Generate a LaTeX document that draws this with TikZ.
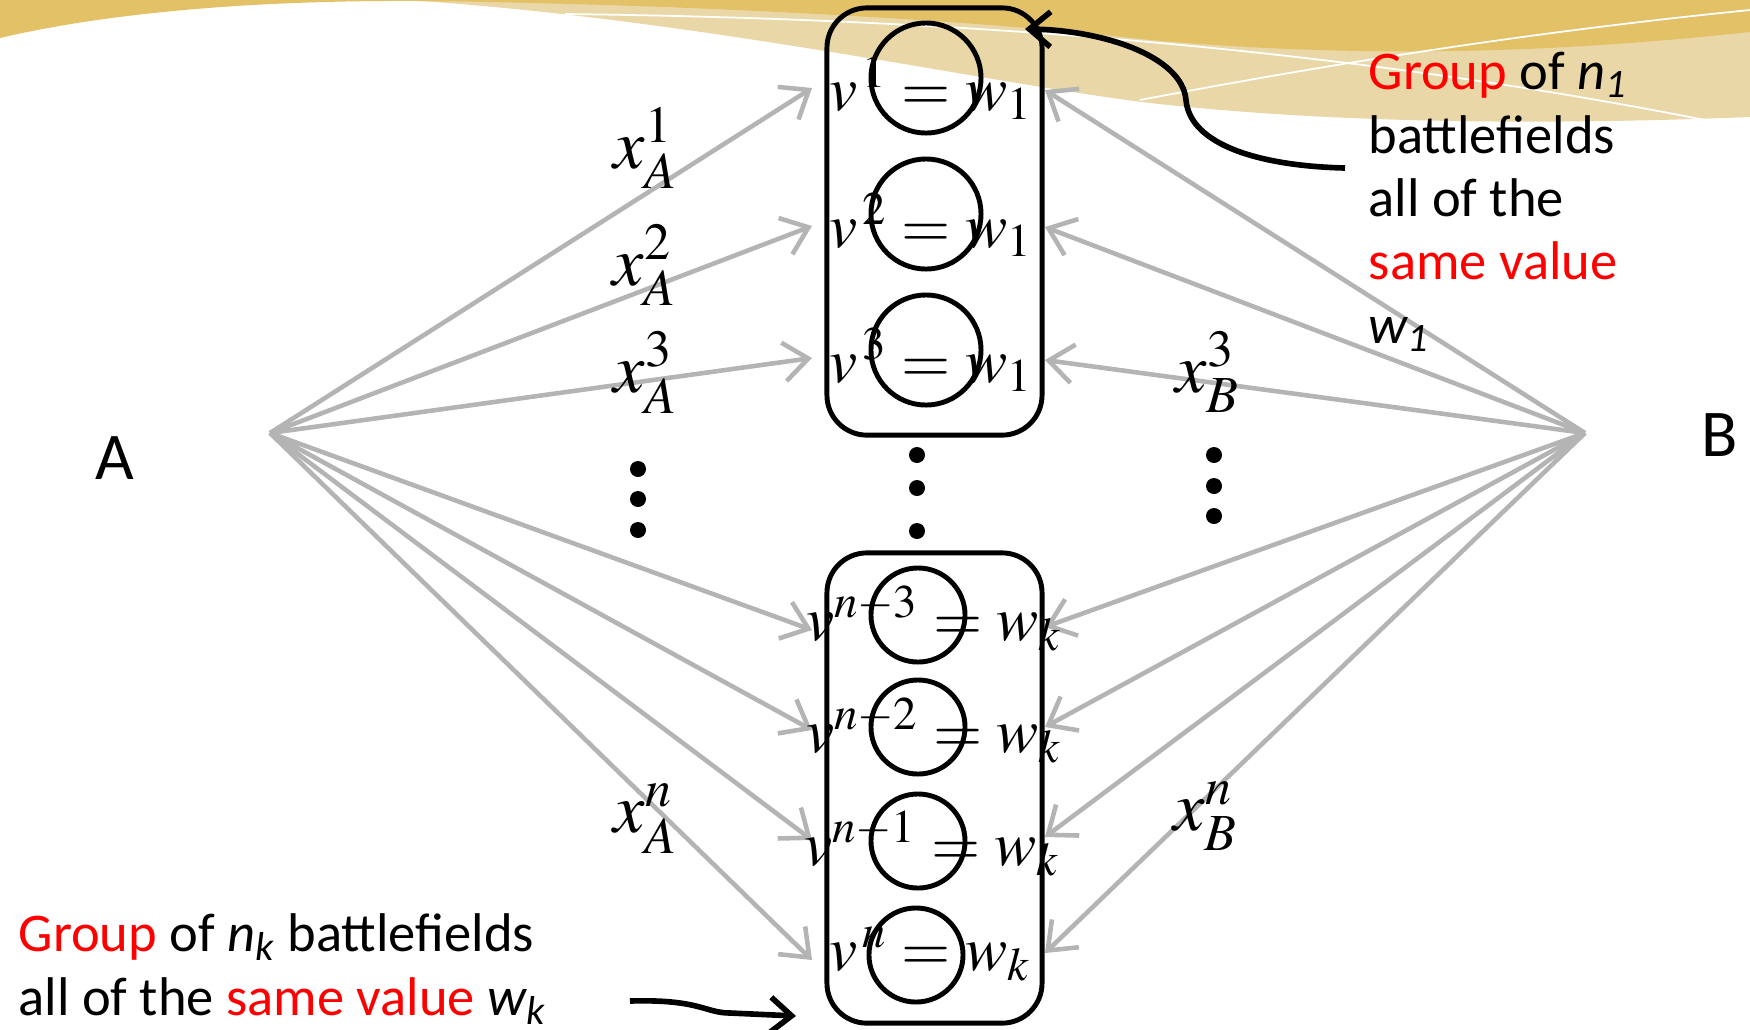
\documentclass[tikz,border=0pt]{standalone}
\usepackage[no-math]{fontspec}
\usepackage{mathptmx}
\setmainfont{Carlito}
\usetikzlibrary{arrows.meta}
\definecolor{goldd}{HTML}{E3C167}
\definecolor{goldl}{HTML}{E9D7A8}
\definecolor{arrgray}{HTML}{B4B4B4}
\begin{document}
\begin{tikzpicture}[x=0.01cm, y=-0.01cm,
        grp/.style = {draw, line width = 1.4pt, rounded corners = 0.4cm, minimum width = 2.15cm},
        ring/.style = {draw, circle, line width = 1.4pt, inner sep = 0pt},
        feed/.style = {draw = arrgray, line width = 1.3pt, -{Straight Barb[length = 7pt, width = 11pt]}},
        lab/.style = {font = \fontsize{20}{24}\selectfont, anchor = base west, inner sep = 0pt},
        val/.style = {font = \fontsize{18}{21}\selectfont, anchor = base, inner sep = 0pt},
        note/.style = {font = \fontsize{15.5}{18}\selectfont, align = left, inner sep = 0pt, anchor = base west},
        pointer/.style = {draw, line width = 1.6pt, -{Straight Barb[length = 6pt, width = 10pt]}}]
        \useasboundingbox (0,0) rectangle (1750,1029);
        \begin{scope}
            \fill[goldl] (420,0) -- (420,1) .. controls (700,20) and (1000,85) .. (1150,103) .. controls (1300,120) and (1500,127) .. (1750,117) -- (1750,0) -- cycle;
            \fill[goldd] (0,0) -- (0,38) .. controls (110,12) and (260,0) .. (420,1) .. controls (700,4) and (1000,22) .. (1150,40) .. controls (1400,62) and (1600,48) .. (1750,32) -- (1750,0) -- cycle;
            \draw[white, line width = 0.5pt] (565,14) .. controls (900,18) and (1300,40) .. (1705,120);
            \draw[white, line width = 0.5pt] (1140,100) .. controls (1350,60) and (1550,30) .. (1750,10);
        \end{scope}
        \coordinate (pa) at (270,433);
        \coordinate (pb) at (1585,433);
        \foreach \y [count = \i] in {88,226,358,630,730,840,960} {
            \coordinate (l\i) at (812,\y);
            \draw[feed] (pa) -- (l\i);
        }
        \foreach \y [count = \i] in {90,227,360,627,727,837,953} {
            \coordinate (r\i) at (1045,\y);
            \draw[feed] (pb) -- (r\i);
        }
        \node[font = \fontsize{19}{23}\selectfont] (a) at (115,458) {A};
        \node[font = \fontsize{19}{23}\selectfont] (b) at (1720,435) {B};
        \node[grp, minimum height = 4.27cm] (g1) at (934.5,221.5) {};
        \node[grp, minimum height = 4.7cm] (gk) at (934.5,788) {};
        \foreach \y [count = \i] in {78,214,350}
            \node[ring, minimum size = 1.1cm] (c\i) at (926,\y) {};
        \foreach \x/\y [count = \i] in {918/615,918/727,918/841,916/955}
            \node[ring, minimum size = 0.94cm] (d\i) at (\x,\y) {};
        \node[val] (v1) at (931,110) {$v^{\,1}=w_{1}$};
        \node[val] (v2) at (931,247) {$v^{\,2}=w_{1}$};
        \node[val] (v3) at (931,382) {$v^{\,3}=w_{1}$};
        \node[val] (u1) at (934,640) {$v^{n-3}=w_{k}$};
        \node[val] (u2) at (934,752) {$v^{n-2}=w_{k}$};
        \node[val] (u3) at (932,865) {$v^{n-1}=w_{k}$};
        \node[val] (u4) at (930,970) {$v^{\,n}=w_{k}$};
        \node[lab] (xa1) at (613,168) {$x_{A}^{1}$};
        \node[lab] (xa2) at (612,285) {$x_{A}^{2}$};
        \node[lab] (xa3) at (613,392) {$x_{A}^{3}$};
        \node[lab] (xan) at (613,832) {$x_{A}^{n}$};
        \node[lab] (xb3) at (1175,392) {$x_{B}^{3}$};
        \node[lab] (xbn) at (1173,830) {$x_{B}^{n}$};
        \foreach \x/\y in {638/469,638/499,638/530,917/455,917/488,917/531,1214/455,1214/486,1214/516}
            \fill (\x,\y) circle[radius = 0.08cm];
        \node[note] (n1) at (1368,343) {\textcolor{red}{Group} of \textit{n\textsubscript{1}}\\battlefields\\all of the\\\textcolor{red}{same value}\\\textit{w\textsubscript{1}}};
        \node[note] (nk) at (18,1015) {\textcolor{red}{Group} of \textit{n\textsubscript{k}} battlefields\\all of the \textcolor{red}{same value} \textit{w\textsubscript{k}}};
        \coordinate (from1) at (1345,168);
        \coordinate (tip1) at (1025,29);
        \coordinate (fromk) at (630,1001);
        \coordinate (tipk) at (796,1016);
        \draw[pointer] (from1) .. controls (1260,166) and (1190,145) .. (1186,100) .. controls (1182,55) and (1100,30) .. (tip1);
        \draw[pointer] (fromk) .. controls (700,999) and (705,1013) .. (730,1013) -- (tipk);
    \end{tikzpicture}
\end{document}
